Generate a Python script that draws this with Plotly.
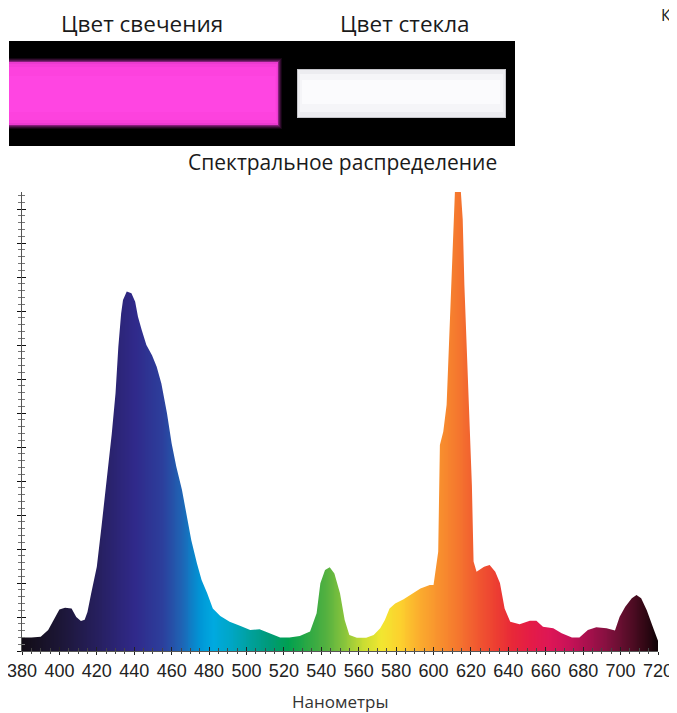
import numpy as np
import plotly.graph_objects as go

# ---- data ----
wavelengths = [380, 385, 390, 394, 397.6, 400, 403, 406.5, 409, 411.5, 413.5, 415, 417,
               420, 422.5, 424.5, 426, 428, 430, 431.5, 433, 434, 436, 438.5, 440.5, 442,
               444, 446.5, 449.5, 452, 454.5, 457.5, 460, 462.5, 465.5, 468, 470.5, 473.5,
               476, 479, 482, 486, 491, 496.5, 502, 507, 512.5, 518, 523, 528.5, 534,
               537.5, 539.5, 542, 544.5, 547, 550, 552.5, 555, 559, 564, 568, 571.5, 574,
               576.5, 579.5, 584, 587.5, 593, 598, 600, 602.5, 603.4, 605.2, 607, 608.8,
               610, 611.5, 614, 615.6, 616.5, 617.8, 619.2, 620.5, 621.4, 623, 627, 630,
               633, 635.5, 638, 641, 646, 651.5, 655, 658.5, 664, 668.5, 674, 678, 682.5,
               687, 692.5, 697, 699.5, 702.5, 706, 708.5, 711, 714, 717.5, 720]
intensity = [0.40, 0.40, 0.42, 0.62, 0.96, 1.22, 1.27, 1.25, 1.00, 0.88, 0.92, 1.15, 1.70,
             2.48, 3.66, 4.64, 5.42, 6.40, 7.58, 8.95, 9.93, 10.32, 10.57, 10.52, 10.27, 9.83,
             9.44, 9.00, 8.70, 8.36, 7.87, 6.99, 6.10, 5.42, 4.74, 4.05, 3.26, 2.58,
             2.09, 1.70, 1.25, 1.03, 0.86, 0.74, 0.62, 0.64, 0.52, 0.40, 0.40, 0.44, 0.57,
             1.11, 1.99, 2.38, 2.46, 2.28, 1.70, 0.91, 0.47, 0.39, 0.39, 0.47, 0.67, 0.91,
             1.25, 1.40, 1.52, 1.65, 1.84, 1.94, 1.94, 2.92, 6.06, 6.45, 7.24, 9.78,
             11.74, 13.6, 14.0, 12.70, 10.76, 8.80, 6.84, 4.88, 2.63, 2.33, 2.48, 2.53,
             2.33, 2.00, 1.25, 0.86, 0.79, 0.89, 0.89, 0.71, 0.67, 0.52, 0.40, 0.40, 0.62,
             0.70, 0.67, 0.60, 1.01, 1.30, 1.55, 1.65, 1.55, 1.20, 0.67, 0.30]
x_ticks = list(range(380, 721, 20))

x_label = "Нанометры"
chart_title = "Спектральное распределение"
glow_label = "Цвет свечения"
glass_label = "Цвет стекла"
corner_label = "К"

# ---- styling ----
OFF = 8  # page body margin of the browser
W, H = 677 - OFF, 713 - OFF
L, T = 22 - OFF, 192 - OFF
R = W - (658 - OFF)
B = H - (651 - OFF)
PW, PH = W - L - R, H - T - B
Y_TOP = 13.5

spectrum_stops = [
    (380, "#120c16"), (400, "#1c1636"), (420, "#261f5e"), (440, "#30298a"),
    (455, "#2c3f9c"), (465, "#1f63b4"), (475, "#0096d6"), (482, "#00a9e0"),
    (492, "#00a6c4"), (502, "#00a09c"), (512, "#009a78"), (522, "#00a050"),
    (532, "#2aa844"), (542, "#52b040"), (552, "#88c43c"), (562, "#c8dc32"),
    (572, "#f2e630"), (582, "#fcd12e"), (592, "#fbad2e"), (602, "#f8922e"),
    (612, "#f5792e"), (622, "#f15b30"), (632, "#ed4131"), (642, "#e82838"),
    (652, "#e41b47"), (662, "#dd1656"), (672, "#c81257"), (682, "#a8104d"),
    (692, "#861040"), (702, "#5e0e2c"), (712, "#350816"), (720, "#0e0306"),
]
colorscale = [[(w - 380) / 340, c] for w, c in spectrum_stops]


def px(x):
    return (x - OFF - L) / PW


def py(y):
    return (H - (y - OFF) - B) / PH


fig = go.Figure()

# gradient colour field (style), masked above the spectrum curve
grid = np.arange(380, 721, 1)
fig.add_trace(go.Heatmap(
    x=grid, y=[0, Y_TOP], z=[grid, grid], zmin=380, zmax=720,
    colorscale=colorscale, showscale=False, zsmooth="best", hoverinfo="skip"))

mask_x = [380] + wavelengths + [720, 720, 380]
mask_y = [Y_TOP + 2] + intensity + [intensity[-1], Y_TOP + 2, Y_TOP + 2]
fig.add_trace(go.Scatter(
    x=mask_x, y=mask_y, fill="toself", fillcolor="white", mode="lines",
    line=dict(width=0, color="white"), hoverinfo="skip", showlegend=False))

# second pair of axes for ticks crossing the axis lines
fig.add_trace(go.Scatter(x=[None], y=[None], xaxis="x2", yaxis="y2",
                         showlegend=False, hoverinfo="skip"))

axis_common = dict(showgrid=False, zeroline=False, automargin=False)
fig.update_layout(
    width=W, height=H,
    margin=dict(l=L, r=R, t=T, b=B, pad=0, autoexpand=False),
    paper_bgcolor="white", plot_bgcolor="white",
    showlegend=False,
    xaxis=dict(range=[380, 720], tickvals=x_ticks, ticktext=[str(v) for v in x_ticks],
               ticks="outside", ticklen=3, tickcolor="#222", tickwidth=1, tickangle=0,
               ticklabeloverflow="allow",
               showline=True, linecolor="#555", linewidth=1,
               minor=dict(dtick=5, tick0=380, ticks="outside", ticklen=2, tickcolor="#444"),
               tickfont=dict(family="Liberation Sans, Arial, sans-serif",
                             size=18, color="#222"),
               **axis_common),
    yaxis=dict(range=[0, Y_TOP], dtick=1, tick0=0, ticks="outside", ticklen=4,
               tickcolor="#111", tickwidth=1, showticklabels=False,
               showline=True, linecolor="#555", linewidth=1,
               minor=dict(dtick=0.2, ticks="outside", ticklen=3, tickcolor="#777"),
               **axis_common),
    xaxis2=dict(range=[380, 720], overlaying="x", anchor="y2", side="bottom",
                tickvals=x_ticks, showticklabels=False, ticks="inside", ticklen=4,
                tickcolor="#222", showline=False,
                minor=dict(dtick=5, tick0=380, ticks="inside", ticklen=3, tickcolor="#444"),
                **axis_common),
    yaxis2=dict(range=[0, Y_TOP], overlaying="y", anchor="x2", side="left",
                dtick=1, tick0=0, ticks="inside", ticklen=4, tickcolor="#111",
                showticklabels=False, showline=False,
                minor=dict(dtick=0.2, ticks="inside", ticklen=3, tickcolor="#777"),
                **axis_common),
)

top_font = dict(family="Open Sans, Noto Sans, sans-serif", size=22.5, color="#1a1a1a")
title_font = dict(family="Open Sans, Noto Sans, sans-serif", size=21, color="#1a1a1a")
annots = [
    dict(text=glow_label, x=px(142), y=py(23.5), font=top_font),
    dict(text=glass_label, x=px(405), y=py(23.5), font=top_font),
    dict(text=chart_title, x=px(342), y=py(162), font=title_font),
    dict(text=x_label, x=px(340), y=py(701.5),
         font=dict(family="Open Sans, Noto Sans, sans-serif", size=17, color="#333")),
    dict(text=corner_label, x=px(666), y=py(15),
         font=dict(family="Open Sans, Noto Sans, sans-serif", size=16, color="#1a1a1a")),
]
for a in annots:
    a.update(xref="paper", yref="paper", xanchor="center", yanchor="middle",
             showarrow=False, borderpad=0)
fig.update_layout(annotations=annots)


def rect(x0, y0, x1, y1, color, opacity=1.0):
    return dict(type="rect", xref="paper", yref="paper", x0=px(x0), x1=px(x1),
                y0=py(y1), y1=py(y0), fillcolor=color, line=dict(width=0),
                opacity=opacity, layer="above")


shapes = [rect(9, 41, 515, 146, "#000000")]
# glowing tube with soft edges
for d, op in [(4, 0.10), (3, 0.16), (2, 0.24), (1, 0.36)]:
    shapes.append(rect(9, 62 - d, 278 + d, 125 + d, "#d233c2", op))
shapes.append(rect(9, 62, 278, 125, "#ea3bd0"))
shapes.append(rect(9, 64, 277, 123, "#f73fd9"))
shapes.append(rect(9, 67, 276, 120, "#fd42de"))
shapes.append(rect(9, 76, 275, 112, "#ff45e2"))
# glass tube
shapes.append(rect(297, 69, 506, 118, "#c4c4c9"))
shapes.append(rect(298, 70, 505, 117, "#ececf0"))
shapes.append(rect(300, 74, 503, 112, "#f5f5f8"))
shapes.append(rect(302, 80, 500, 104, "#fbfbfd"))
fig.update_layout(shapes=shapes)

fig.write_html("out.html")
